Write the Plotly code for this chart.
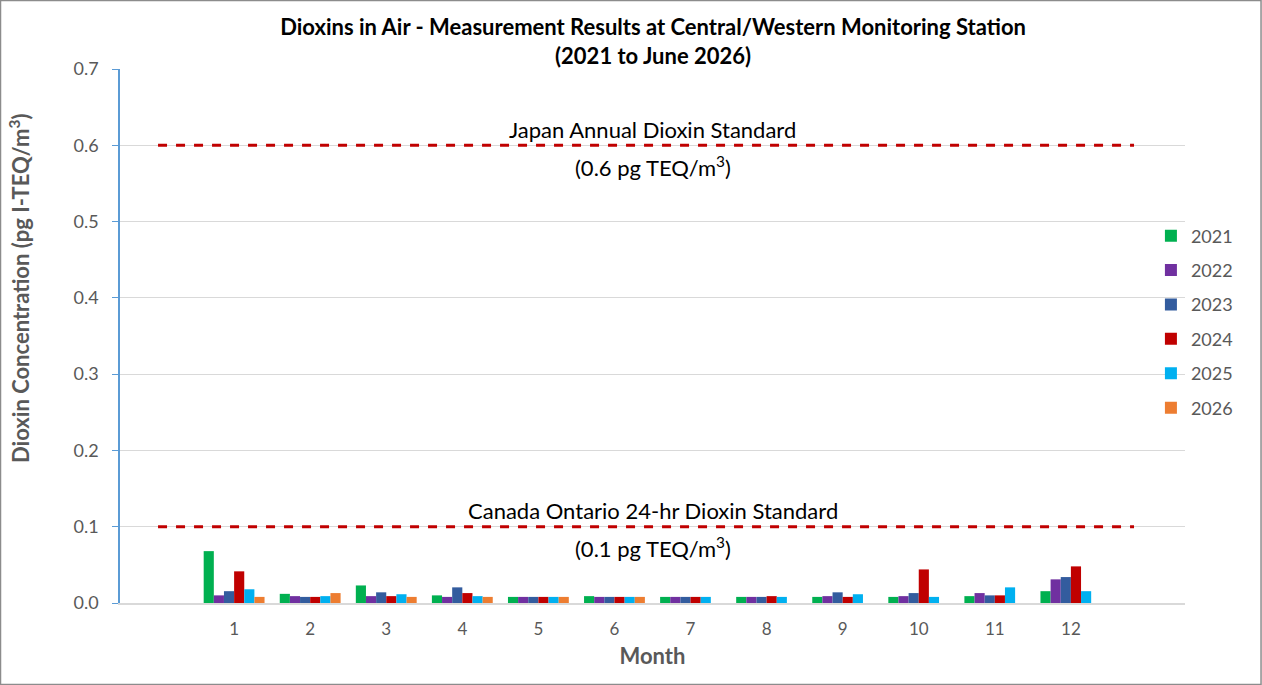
import plotly.graph_objects as go

months = [1, 2, 3, 4, 5, 6, 7, 8, 9, 10, 11, 12]
years = ["2021", "2022", "2023", "2024", "2025", "2026"]
v2021 = [0.068, 0.012, 0.023, 0.010, 0.008, 0.009, 0.008, 0.008, 0.008, 0.008, 0.009, 0.0155]
v2022 = [0.010, 0.009, 0.009, 0.008, 0.008, 0.008, 0.008, 0.008, 0.009, 0.009, 0.013, 0.031]
v2023 = [0.0155, 0.008, 0.014, 0.0205, 0.008, 0.008, 0.008, 0.008, 0.014, 0.013, 0.010, 0.034]
v2024 = [0.0415, 0.008, 0.009, 0.013, 0.008, 0.008, 0.008, 0.009, 0.008, 0.044, 0.010, 0.048]
v2025 = [0.018, 0.009, 0.0115, 0.009, 0.008, 0.008, 0.008, 0.008, 0.0115, 0.008, 0.0205, 0.0155]
v2026 = [0.008, 0.013, 0.008, 0.008, 0.008, 0.008, None, None, None, None, None, None]
colors = ["#00B050", "#7030A0", "#335C9E", "#C00000", "#00B0F0", "#ED7D31"]
japan_std = 0.6
ontario_std = 0.1

series = [v2021, v2022, v2023, v2024, v2025, v2026]
FONT = "Lato"
GREY = "#595959"

fig = go.Figure()
for yr, vals, c in zip(years, series, colors):
    fig.add_trace(go.Bar(x=months, y=vals, name=yr, marker=dict(color=c, line=dict(width=0)),
                         legendgroup=yr))

for val in [japan_std, ontario_std]:
    fig.add_shape(type="line", xref="x", yref="y", x0=0, x1=12.83, y0=val, y1=val,
                  line=dict(color="#C00000", width=3, dash="dash"))

ann_font = dict(family=FONT, size=22, color="#000000")
fig.add_annotation(x=0.5, xref="paper", y=japan_std, yref="y", yshift=16, showarrow=False,
                   text="Japan Annual Dioxin Standard", font=ann_font)
fig.add_annotation(x=0.5, xref="paper", y=japan_std, yref="y", yshift=-21, showarrow=False,
                   text="(0.6 pg TEQ/m<sup>3</sup>)", font=ann_font)
fig.add_annotation(x=0.5, xref="paper", y=ontario_std, yref="y", yshift=16, showarrow=False,
                   text="Canada Ontario 24-hr Dioxin Standard", font=ann_font)
fig.add_annotation(x=0.5, xref="paper", y=ontario_std, yref="y", yshift=-21, showarrow=False,
                   text="(0.1 pg TEQ/m<sup>3</sup>)", font=ann_font)

# y axis title placed as annotation
fig.add_annotation(x=-0.0939, xref="paper", y=0.59, yref="paper", showarrow=False, textangle=-90,
                   xanchor="center", yanchor="middle",
                   text="<b>Dioxin Concentration (pg I-TEQ/m<sup>3</sup>)</b>",
                   font=dict(family=FONT, size=22, color=GREY))

# chart border
fig.add_shape(type="rect", xref="paper", yref="paper", x0=-0.1122, x1=1.0714, y0=-0.1526, y1=1.1283,
              line=dict(color="#8C8C8C", width=1.5), fillcolor="rgba(0,0,0,0)", layer="below")

fig.update_layout(
    width=1262, height=685,
    margin=dict(l=120, r=77, t=69, b=82, autoexpand=False),
    paper_bgcolor="white", plot_bgcolor="white",
    font=dict(family=FONT, color=GREY, size=16),
    title=dict(text="<b>Dioxins in Air - Measurement Results at Central/Western Monitoring Station<br>(2021 to June 2026)</b>",
               x=0.5175, xanchor="center", y=0.949, yanchor="top",
               font=dict(family=FONT, size=22, color="#000000")),
    barmode="group", bargap=0.2, bargroupgap=0,
    showlegend=True,
    legend=dict(x=0.968, xanchor="left", y=0.722, yanchor="top", bgcolor="rgba(0,0,0,0)",
                font=dict(family=FONT, size=18, color=GREY), tracegroupgap=8,
                itemwidth=30),
)
fig.update_xaxes(range=[-0.5, 13.5], tickvals=months, ticktext=[str(m) for m in months],
                 showgrid=False, showline=True, linecolor="#D9D9D9", linewidth=1.5,
                 ticks="", ticklabelstandoff=10, zeroline=False,
                 title=dict(text="<b>Month</b>", font=dict(family=FONT, size=22, color=GREY), standoff=10),
                 tickfont=dict(family=FONT, size=17, color=GREY))
fig.update_yaxes(range=[0, 0.7], dtick=0.1, tickformat=".1f", showgrid=True, gridcolor="#D9D9D9",
                 gridwidth=1, showline=True, linecolor="#5B9BD5", linewidth=1.5,
                 ticks="outside", ticklen=6, tickcolor="#5B9BD5", zeroline=False,
                 ticklabelstandoff=10,
                 tickfont=dict(family=FONT, size=18, color=GREY))

fig.write_html("out.html", config={"displayModeBar": False},
               post_script="document.body.style.margin='0';")
